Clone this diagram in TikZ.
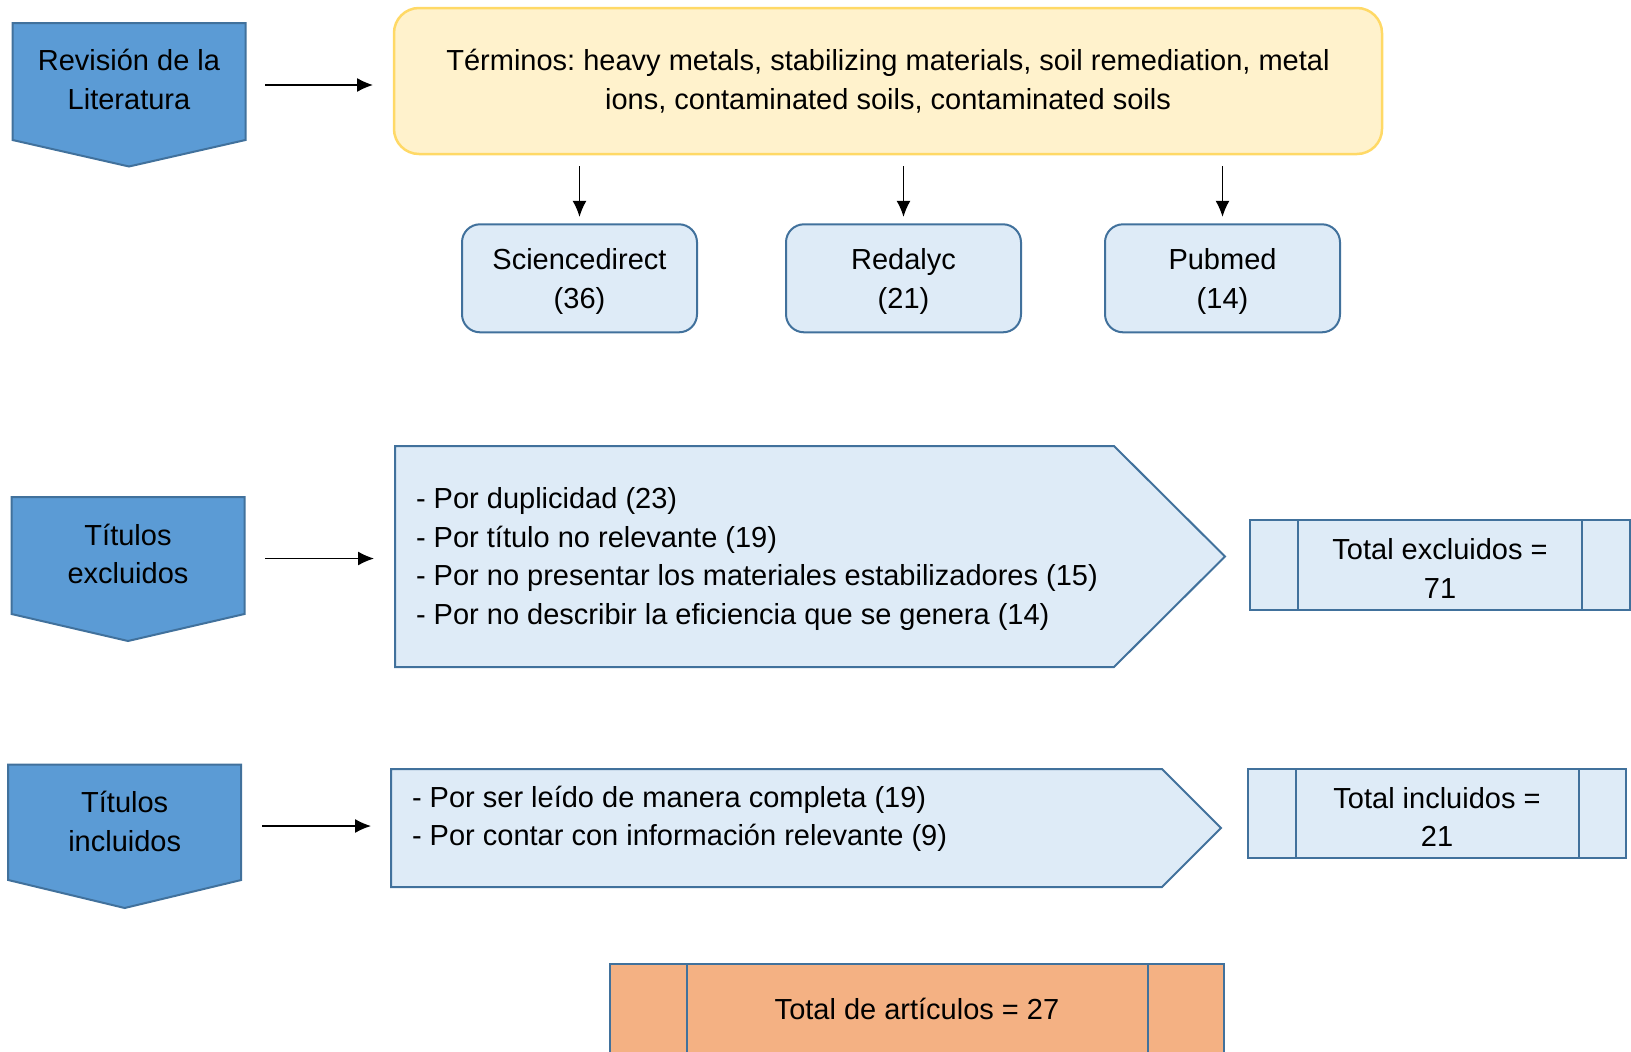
\documentclass[tikz,border=0pt]{standalone}
\usepackage{fontspec}
\setmainfont{Liberation Sans}
\usetikzlibrary{arrows.meta,calc,backgrounds}
\definecolor{dblue}{HTML}{5B9BD5}
\definecolor{bord}{HTML}{41719C}
\definecolor{lblue}{HTML}{DEEBF7}
\definecolor{yfill}{HTML}{FFF2CC}
\definecolor{yline}{HTML}{FFD966}
\definecolor{ofill}{HTML}{F4B183}
\frenchspacing
\begin{document}
\begin{tikzpicture}[x=1pt,y=-1pt,
  txt/.style={font=\fontsize{29}{38.5}\selectfont, inner sep=0pt, outer sep=0pt},
  hdr/.style={txt, minimum width=233pt, minimum height=117pt, align=center},
  hdrshape/.style={draw=bord, fill=dblue, line width=2pt, line join=miter},
  arr/.style={-{Latex[length=16pt,width=14pt]}, line width=1.3pt},
  dbbox/.style={txt, draw=bord, fill=lblue, line width=2pt, rounded corners=18pt,
    minimum width=235pt, minimum height=108pt},
  pent/.style={draw=bord, fill=lblue, line width=2pt, line join=miter},
  totbox/.style={txt, draw=bord, line width=2pt},
  intext/.style={txt, align=center},
]
\useasboundingbox (0,0) rectangle (1631,1052);

% headers
\node[hdr, label={[intext, yshift=2pt]center:{Revisión de la\\Literatura}}] (rev) at (129,81.5) {};
\node[hdr, label={[intext, yshift=1.5pt]center:{Títulos\\excluidos}}] (exh) at (128,555.5) {};
\node[hdr, minimum height=115.5pt, label={[intext, yshift=1pt]center:{Títulos\\incluidos}}] (inh) at (124.7,822.25) {};

% terms box
\node[txt, draw=yline, fill=yfill, line width=2.5pt, rounded corners=25pt,
  minimum width=988pt, minimum height=146pt, align=center] (terms) at (888,81)
  {Términos: heavy metals, stabilizing materials, soil remediation, metal\\ions, contaminated soils, contaminated soils};

% databases
\node[dbbox, label={[intext, yshift=-3pt]center:{Sciencedirect\\(36)}}] (sd) at (579.5,278.3) {};
\node[dbbox, label={[intext, yshift=-3pt]center:{Redalyc\\(21)}}] (red) at (903.5,278.3) {};
\node[dbbox, label={[intext, yshift=-3pt]center:{Pubmed\\(14)}}] (pub) at (1222.5,278.3) {};

% exclusion pentagon
\node[txt, minimum width=719pt, minimum height=221pt] (exc) at (754.5,556.5) {};
\node[txt, anchor=west, align=left] (exctxt) at (416,559)
  {- Por duplicidad (23)\\- Por título no relevante (19)\\- Por no presentar los materiales estabilizadores (15)\\- Por no describir la eficiencia que se genera (14)};

% inclusion pentagon
\node[txt, minimum width=771pt, minimum height=118pt] (inc) at (776.5,828) {};
\node[txt, anchor=west, align=left] (inctxt) at (412,819)
  {- Por ser leído de manera completa (19)\\- Por contar con información relevante (9)};

% totals
\node[totbox, fill=lblue, minimum width=380pt, minimum height=90pt,
  label={[intext, yshift=-3.5pt]center:{Total excluidos =\\71}}] (totex) at (1440,565) {};
\node[totbox, fill=lblue, minimum width=378pt, minimum height=89pt,
  label={[intext, yshift=-3.5pt]center:{Total incluidos =\\21}}] (totin) at (1437,813.5) {};
\node[totbox, fill=ofill, minimum width=614pt, minimum height=90pt] (tot) at (917,1009) {Total de artículos = 27};

\draw[bord, line width=2pt] ([xshift=48pt]totex.north west) -- ([xshift=48pt]totex.south west)
  ([xshift=-48pt]totex.north east) -- ([xshift=-48pt]totex.south east);
\draw[bord, line width=2pt] ([xshift=48pt]totin.north west) -- ([xshift=48pt]totin.south west)
  ([xshift=-47pt]totin.north east) -- ([xshift=-47pt]totin.south east);
\draw[bord, line width=2pt] ([xshift=77pt]tot.north west) -- ([xshift=77pt]tot.south west)
  ([xshift=-76pt]tot.north east) -- ([xshift=-76pt]tot.south east);

\begin{scope}[on background layer]
  \draw[hdrshape] (rev.north west) -- (rev.north east) -- (rev.south east)
    -- ($(rev.south)+(0,26.5)$) -- (rev.south west) -- cycle;
  \draw[hdrshape] (exh.north west) -- (exh.north east) -- (exh.south east)
    -- ($(exh.south)+(0,27)$) -- (exh.south west) -- cycle;
  \draw[hdrshape] (inh.north west) -- (inh.north east) -- (inh.south east)
    -- ($(inh.south)+(0,28)$) -- (inh.south west) -- cycle;
  \draw[pent] (exc.north west) -- (exc.north east) -- ($(exc.east)+(111,0)$)
    -- (exc.south east) -- (exc.south west) -- cycle;
  \draw[pent] (inc.north west) -- (inc.north east) -- ($(inc.east)+(59,0)$)
    -- (inc.south east) -- (inc.south west) -- cycle;
\end{scope}

% connectors
\draw[arr, shorten <=19.5pt, shorten >=21pt] ($(rev.east)+(0,3.5)$) -- ($(rev.east -| terms.west)+(0,3.5)$);
\draw[arr, shorten <=20.5pt, shorten >=21pt] ($(exh.east)+(0,3)$) -- ($(exh.east -| exc.west)+(0,3)$);
\draw[arr, shorten <=21pt, shorten >=20pt] ($(inh.east)+(0,3.75)$) -- ($(inh.east -| inc.west)+(0,3.75)$);
\draw[arr, shorten <=12pt, shorten >=7.5pt] (terms.south -| sd.north) -- (sd.north);
\draw[arr, shorten <=12pt, shorten >=7.5pt] (terms.south -| red.north) -- (red.north);
\draw[arr, shorten <=12pt, shorten >=7.5pt] (terms.south -| pub.north) -- (pub.north);
\end{tikzpicture}
\end{document}
